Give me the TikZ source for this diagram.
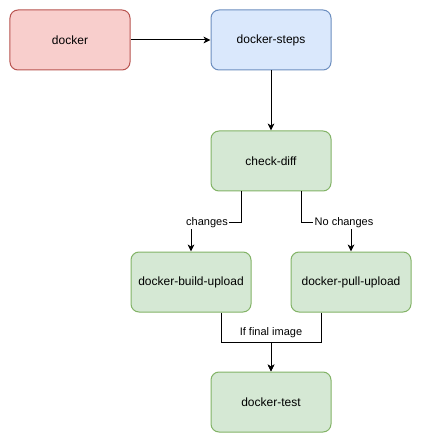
\documentclass[tikz,border=0pt]{standalone}
\usepackage{fontspec}
\setmainfont{Liberation Sans}
\usetikzlibrary{arrows.meta, positioning, calc}

\definecolor{redfill}{HTML}{F8CECC}
\definecolor{redline}{HTML}{B85450}
\definecolor{bluefill}{HTML}{DAE8FC}
\definecolor{blueline}{HTML}{6C8EBF}
\definecolor{greenfill}{HTML}{D5E8D4}
\definecolor{greenline}{HTML}{82B366}

\begin{document}
\begin{tikzpicture}[node distance=45pt,
  job/.style={draw, rectangle, rounded corners=6pt, minimum width=90pt, minimum height=45pt, line width=0.75pt, font=\fontsize{9}{11}\selectfont},
  redjob/.style={job, fill=redfill, draw=redline},
  bluejob/.style={job, fill=bluefill, draw=blueline},
  greenjob/.style={job, fill=greenfill, draw=greenline},
  flow/.style={-{Stealth[length=5.25pt, width=5pt, inset=1.5pt]}, line width=0.75pt},
  lbl/.style={font=\fontsize{8.25}{10}\selectfont, inner sep=1pt}]
\useasboundingbox (-52.5pt,30pt) rectangle (263.25pt,-300.75pt);

% Jobs
\node[redjob] (docker) {docker};
\node[bluejob, right=60pt of docker] (steps) {docker-steps};
\node[greenjob, below=of steps] (check) {check-diff};
\node[greenjob, below=of check, xshift=-60pt] (build) {docker-build-upload};
\node[greenjob, below=of check, xshift=60pt] (pull) {docker-pull-upload};
\node[greenjob, below=135pt of check] (test) {docker-test};

% Arrows
\draw[flow] (docker) -- (steps);
\draw[flow] (steps) -- (check);
\draw[flow] ([xshift=-22.5pt]check.south) -- ++(0,-23.25pt) -| node[lbl, fill=white, pos=0.34] {changes} (build);
\draw[flow] ([xshift=22.5pt]check.south) -- ++(0,-23.25pt) -| node[lbl, fill=white, pos=0.43] {No changes} (pull);
\draw[flow] ([xshift=22.5pt]build.south) -- ++(0,-22.5pt) -| node[lbl, pos=0.5, above=2pt] {If final image} (test);
\draw[flow] ([xshift=-22.5pt]pull.south) -- ++(0,-22.5pt) -| (test);
\end{tikzpicture}
\end{document}
